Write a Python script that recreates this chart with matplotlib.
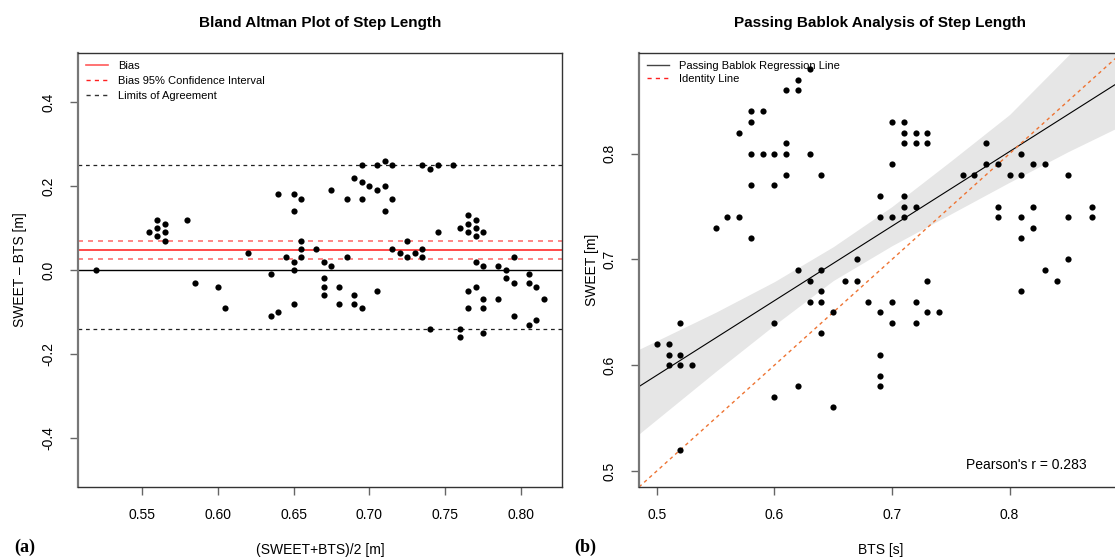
import numpy as np
import matplotlib.pyplot as plt
from matplotlib.lines import Line2D

plt.rcParams['font.family'] = ['Liberation Sans', 'DejaVu Sans']
plt.rcParams['axes.unicode_minus'] = False

# step length pairs (m)
bts = [0.50, 0.51, 0.51, 0.51, 0.52, 0.52, 0.52, 0.53, 0.52,
       0.55, 0.56, 0.57, 0.57, 0.58, 0.58, 0.58, 0.58, 0.58, 0.59, 0.59,
       0.60, 0.60, 0.61, 0.61, 0.61, 0.61, 0.62, 0.62, 0.63, 0.63, 0.64,
       0.60, 0.60, 0.62, 0.62, 0.63, 0.63, 0.64, 0.64, 0.64, 0.64, 0.65,
       0.65, 0.66, 0.67, 0.67, 0.68, 0.69, 0.69, 0.69, 0.69, 0.70, 0.70,
       0.72, 0.72, 0.73, 0.73, 0.74,
       0.70, 0.71, 0.71, 0.72, 0.73, 0.71, 0.72, 0.73, 0.70, 0.69, 0.71,
       0.71, 0.72, 0.69, 0.70, 0.71,
       0.78, 0.78, 0.79, 0.76, 0.77, 0.80, 0.81, 0.81, 0.82, 0.83, 0.85,
       0.79, 0.79, 0.82, 0.81, 0.85, 0.87, 0.87, 0.82, 0.81, 0.85, 0.83,
       0.84, 0.81]
sweet = [0.62, 0.62, 0.61, 0.60, 0.64, 0.61, 0.60, 0.60, 0.52,
         0.73, 0.74, 0.74, 0.82, 0.72, 0.77, 0.80, 0.83, 0.84, 0.84, 0.80,
         0.80, 0.77, 0.80, 0.81, 0.78, 0.86, 0.86, 0.87, 0.88, 0.80, 0.78,
         0.64, 0.57, 0.69, 0.58, 0.68, 0.66, 0.69, 0.67, 0.66, 0.63, 0.65,
         0.56, 0.68, 0.70, 0.68, 0.66, 0.65, 0.61, 0.59, 0.58, 0.66, 0.64,
         0.66, 0.64, 0.68, 0.65, 0.65,
         0.83, 0.83, 0.82, 0.82, 0.82, 0.81, 0.81, 0.81, 0.79, 0.76, 0.76,
         0.75, 0.75, 0.74, 0.74, 0.74,
         0.81, 0.79, 0.79, 0.78, 0.78, 0.78, 0.78, 0.80, 0.79, 0.79, 0.78,
         0.75, 0.74, 0.75, 0.74, 0.74, 0.75, 0.74, 0.73, 0.72, 0.70, 0.69,
         0.68, 0.67]

# Bland Altman statistics
bias = 0.047
bias_ci = [0.027, 0.069]
loa = [-0.140, 0.249]

# Passing Bablok fit and its confidence band
pb_intercept = 0.238
pb_slope = 0.705
band_x = [0.4848, 0.55, 0.60, 0.65, 0.70, 0.75, 0.80, 0.85, 0.90]
band_hi = [0.615, 0.650, 0.679, 0.712, 0.750, 0.793, 0.837, 0.893, 0.950]
band_lo = [0.535, 0.594, 0.638, 0.680, 0.713, 0.743, 0.773, 0.802, 0.829]
pearson_r = 0.283

bts = np.array(bts)
sweet = np.array(sweet)
mean_ = (sweet + bts) / 2
diff = sweet - bts

fig = plt.figure(figsize=(11.15, 5.59), dpi=100)
ax1 = fig.add_axes([0.0700, 0.1288, 0.4341, 0.7764])
ax2 = fig.add_axes([0.5731, 0.1288, 0.4327, 0.7764])

# ---- (a) Bland Altman
ax1.axhline(0, color='black', lw=1)
ax1.axhline(bias, color='#ff2a2a', lw=1.2)
for c in bias_ci:
    ax1.axhline(c, color='#ff7272', lw=1.2, ls=(0, (3, 3)))
for l in loa:
    ax1.axhline(l, color='#222222', lw=0.9, ls=(0, (3, 3)))
ax1.scatter(mean_, diff, s=20, color='black', zorder=5, linewidths=0)
ax1.set_xlim(0.508, 0.827)
ax1.set_ylim(-0.517, 0.517)
ax1.set_xticks([0.55, 0.60, 0.65, 0.70, 0.75, 0.80])
ax1.set_xticklabels(['0.55', '0.60', '0.65', '0.70', '0.75', '0.80'])
ax1.set_yticks([-0.4, -0.2, 0.0, 0.2, 0.4])
ax1.set_yticklabels(['-0.4', '-0.2', '0.0', '0.2', '0.4'])
ax1.set_title('Bland Altman Plot of Step Length', fontsize=11, fontweight='bold', pad=19)
ax1.set_xlabel('(SWEET+BTS)/2 [m]', fontsize=10, labelpad=15)
ax1.set_ylabel('SWEET – BTS [m]', fontsize=10)
ax1.yaxis.set_label_coords(-0.105, 0.5)
h1 = [Line2D([], [], color='#ff5a5a', lw=1.2),
      Line2D([], [], color='#ff2020', lw=1.0, ls=(0, (3, 3))),
      Line2D([], [], color='#333333', lw=1.0, ls=(0, (3, 3)))]
ax1.legend(h1, ['Bias', 'Bias 95% Confidence Interval', 'Limits of Agreement'],
           loc='upper left', frameon=False, fontsize=8, handlelength=2.0,
           labelspacing=0.45, borderaxespad=0.3, handletextpad=0.9)

# ---- (b) Passing Bablok
ax2.fill_between(band_x, band_lo, band_hi, color='#e6e6e6', lw=0)
xl = np.array([0.4848, 0.9])
ax2.plot(xl, pb_intercept + pb_slope * xl, color='black', lw=0.8)
ax2.plot(xl, xl, color='#ee7433', lw=1.0, ls=(0, (2.5, 2.5)))
ax2.scatter(bts, sweet, s=20, color='black', zorder=5, linewidths=0)
ax2.set_xlim(0.4848, 0.8952)
ax2.set_ylim(0.4848, 0.8952)
ax2.set_xticks([0.5, 0.6, 0.7, 0.8])
ax2.set_xticklabels(['0.5', '0.6', '0.7', '0.8'])
ax2.set_yticks([0.5, 0.6, 0.7, 0.8])
ax2.set_yticklabels(['0.5', '0.6', '0.7', '0.8'])
ax2.set_title('Passing Bablok Analysis of Step Length', fontsize=11, fontweight='bold', pad=19)
ax2.set_xlabel('BTS [s]', fontsize=10, labelpad=15)
ax2.set_ylabel('SWEET [m]', fontsize=10)
ax2.yaxis.set_label_coords(-0.083, 0.5)
ax2.text(0.814, 0.506, "Pearson's r = %.3f" % pearson_r, fontsize=10, ha='center', va='center')
h2 = [Line2D([], [], color='#444444', lw=1.0),
      Line2D([], [], color='#ff2020', lw=1.0, ls=(0, (3, 3)))]
ax2.legend(h2, ['Passing Bablok Regression Line', 'Identity Line'],
           loc='upper left', frameon=False, fontsize=8, handlelength=2.0,
           labelspacing=0.3, borderaxespad=0.3, handletextpad=0.9)

for ax in (ax1, ax2):
    for sp in ax.spines.values():
        sp.set_color('#333333')
        sp.set_linewidth(1.0)
    ax.spines['left'].set_color('#777777')
    ax.spines['left'].set_linewidth(1.6)
    ax.tick_params(axis='both', length=6, width=1, color='#666666', labelsize=10)
    ax.tick_params(axis='x', pad=9)
    ax.tick_params(axis='y', pad=10)
    for lab in ax.get_yticklabels():
        lab.set_rotation(90)
        lab.set_va('center')

fig.text(0.013, 0.012, '(a)', fontsize=13, fontweight='bold', family='Liberation Serif')
fig.text(0.515, 0.012, '(b)', fontsize=13, fontweight='bold', family='Liberation Serif')

fig.savefig('out.png', dpi=100)
